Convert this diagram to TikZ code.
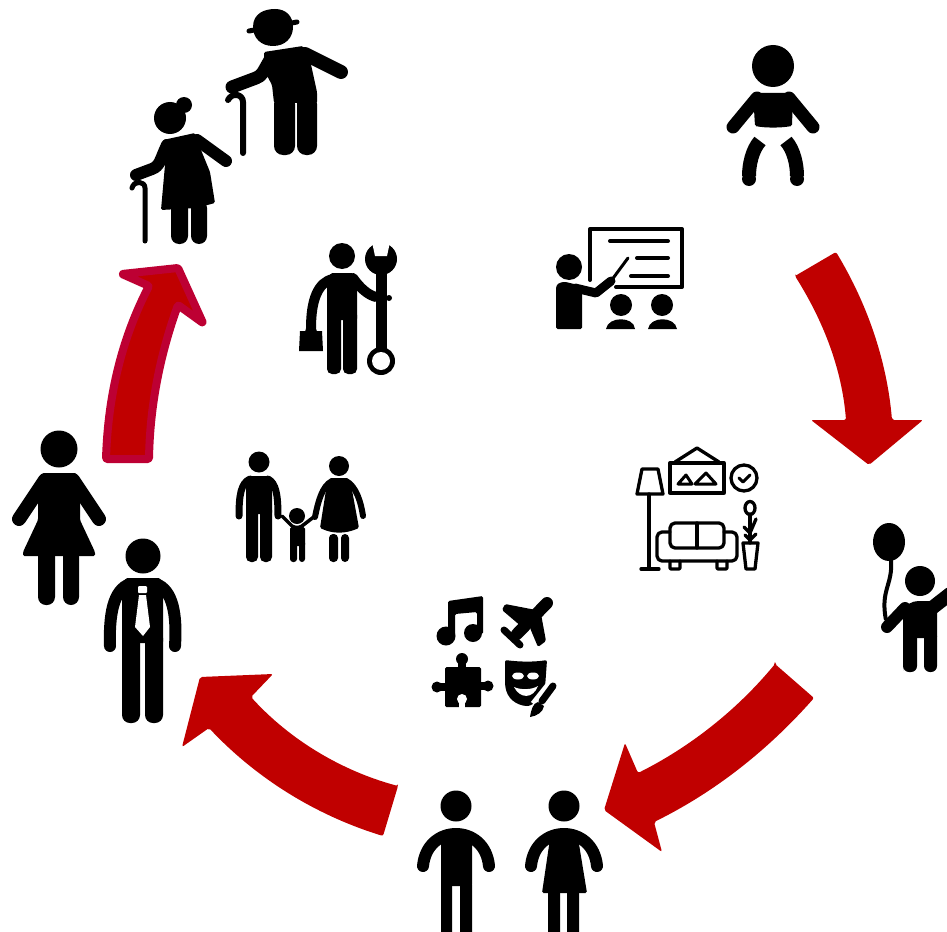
\documentclass[tikz,border=0pt]{standalone}
\definecolor{arrowred}{HTML}{C00000}
\definecolor{arrowrim}{HTML}{BD0033}
\tikzset{
  ink/.style={fill=black, rounded corners=1.5pt},
  limb/.style={draw=black, line cap=round, line join=round},
  leg/.style={fill=black, rounded corners=5pt},
  wire/.style={draw=black, line width=3.3pt, line join=round, line cap=round},
  redarrow/.style={fill=arrowred, rounded corners=2pt}
}
\begin{document}
\begin{tikzpicture}[x=1pt,y=-1pt]
\useasboundingbox (0,0) rectangle (947,931);
% red arrows
\fill[redarrow] (795,276) -- (836,252) .. controls (868,305) and (887,362) .. (892,420) -- (923,420) -- (869,465) -- (811,420) -- (846,420) .. controls (842,370) and (824,322) .. (795,276) -- cycle; %top right
\fill[redarrow] (775,664) -- (814,698) .. controls (768,750) and (715,792) .. (654,822) -- (662,852) -- (604,810) -- (625,743) -- (638,773) .. controls (690,747) and (737,710) .. (775,664) -- cycle; %bottom right
\fill[redarrow] (398,786) -- (383,836) .. controls (315,815) and (256,778) .. (209,728) -- (182,747) -- (200,677) -- (273,674) -- (251,697) .. controls (290,740) and (342,771) .. (398,786) -- cycle; %bottom left
\draw[fill=arrowred, rounded corners=1pt, draw=arrowrim, line width=8pt, line join=round] (106,459) .. controls (108,395) and (122,338) .. (149,286) -- (122,274) -- (178,268) -- (203,323) -- (178,305) .. controls (160,355) and (150,405) .. (149,459) -- cycle; %left
% baby
\fill (773,66) circle (21);
\fill[ink] (753,93) -- (793,93) -- (792,126) .. controls (780,128) and (766,128) .. (755,126) -- cycle;
\draw[limb, line width=13pt] (757,98) -- (733,127);
\draw[limb, line width=13pt] (789,98) -- (813,127);
\draw[draw=black, line width=14pt] (760,141) .. controls (752,150) and (749,165) .. (749,176);
\draw[draw=black, line width=14pt] (786,141) .. controls (794,150) and (797,165) .. (797,176);
\fill (749,179) circle (7);
\fill (797,179) circle (7);
% old man
\fill (253,27) .. controls (253,13) and (265,9) .. (275,9) .. controls (286,9) and (293,16) .. (293,27) .. controls (293,38) and (285,46) .. (273,46) .. controls (261,46) and (253,38) .. (253,27) -- cycle;
\draw[limb, line width=5pt] (249,31) -- (297,22);
\fill[ink] (264,52) -- (303,46) -- (310,60) -- (317,92) -- (317,103) -- (274,103) -- (272,85) -- (264,70) -- cycle;
\draw[limb, line width=14pt] (305,54) -- (341,72);
\draw[limb, line width=13pt] (270,60) .. controls (263,72) and (262,76) .. (256,78) -- (232,87);
\fill[leg, rounded corners=9pt] (274,95) rectangle (295,155);
\fill[leg, rounded corners=9pt] (297,95) rectangle (317,155);
\draw[limb, line width=6pt] (243,153) -- (243,102) .. controls (243,94) and (232,92) .. (228,100);
% old woman
\fill (170,118) circle (16);
\fill (184,105) circle (8);
\fill[ink] (163,140) -- (195,133) -- (201,150) -- (210,172) -- (215,203) -- (196,208) -- (161,210) -- (165,165) -- cycle;
\draw[limb, line width=12pt] (197,140) -- (226,161);
\draw[limb, line width=12pt] (167,145) .. controls (160,160) and (160,166) .. (152,169) -- (136,175);
\fill[leg, rounded corners=8pt] (171,200) rectangle (188,244);
\fill[leg, rounded corners=8pt] (191,200) rectangle (207,244);
\draw[limb, line width=5pt] (145,241) -- (145,188) .. controls (145,181) and (134,180) .. (132,188);
% mechanic
\fill (342,256) circle (13);
\fill[ink] (331,273) -- (353,273) -- (357,280) -- (357,320) -- (327,320) -- (327,280) -- cycle;
\draw[limb, line width=10pt] (333,279) .. controls (318,282) and (311,300) .. (311,328);
\draw[limb, line width=10pt] (353,278) .. controls (360,288) and (368,295) .. (376,297);
\fill[leg] (327,310) rectangle (341,374);
\fill[leg] (343,310) rectangle (357,374);
\fill (300,331) -- (322,331) -- (323,351) -- (299,351) -- cycle;
\draw[black, line width=2pt] (306,332) -- (308,325) -- (314,325) -- (316,332);
\fill (389,298) circle (3);
\draw[line width=11pt] (381,262) -- (381,352);
\fill (381,259) circle (16);
\fill[white] (372,242) -- (390,242) -- (387,256) -- (375,256) -- cycle;
\fill (381,361) circle (14);
\fill[white] (381,361) circle (9);
% teacher and class
\fill (569,267) circle (13);
\fill[ink] (556,329) -- (556,290) .. controls (556,284) and (560,282) .. (566,282) -- (582,286) -- (582,329) -- cycle;
\draw[limb, line width=9pt] (575,288) -- (596,293) -- (611,281);
\draw[limb, line width=3pt] (611,281) -- (628,258);
\draw[wire, line width=4pt] (590,280) -- (590,229) -- (682,229) -- (682,287) -- (616,287);
\draw[wire, line width=4pt] (610,241) -- (668,241);
\draw[wire, line width=4pt] (637,258) -- (668,258);
\draw[wire, line width=4pt] (631,276) -- (668,276);
\fill (621,305) circle (11);
\fill (662,305) circle (11);
\fill (606,329) .. controls (608,316) and (634,316) .. (635,329) -- cycle;
\fill (648,329) .. controls (650,316) and (675,316) .. (677,329) -- cycle;
% living room
\draw[wire] (642,469) -- (658,469) -- (663,494) -- (637,494) -- cycle; %lamp
\draw[wire] (649,494) -- (649,568);
\draw[wire] (641,569) -- (659,569);
\draw[wire] (670,463) rectangle (724,493); %picture
\draw[wire] (675,462) -- (697,448) -- (719,462);
\draw[wire, line width=3pt] (678,484) -- (686,475) -- (692,484) -- cycle;
\draw[wire, line width=3pt] (695,484) -- (706,473) -- (716,484) -- cycle;
\draw[wire] (744,478) circle (13); %clock
\draw[wire, line width=3pt] (739,478) -- (743,482) -- (750,475);
\draw[wire, rounded corners=5pt] (670,548) -- (670,523) -- (724,523) -- (724,548) -- cycle; %sofa
\draw[wire] (697,523) -- (697,548);
\draw[wire, rounded corners=5pt] (670,532) -- (657,532) -- (657,561) -- (737,561) -- (737,532) -- (724,532);
\draw[wire, rounded corners=1pt] (670,561) -- (670,569) -- (680,569) -- (680,561);
\draw[wire, rounded corners=1pt] (717,561) -- (717,569) -- (727,569) -- (727,561);
\draw[wire] (750,508) ellipse (5 and 6.5); %plant
\draw[wire] (750,514) -- (750,543);
\draw[wire] (744,527) -- (750,533) -- (756,519);
\draw[wire] (745,535) -- (750,540) -- (756,534);
\draw[wire] (743,543) -- (758,543) -- (755,569) -- (746,569) -- cycle;
% child with balloon
\fill (889,542) ellipse (16 and 19);
\draw[draw=black, line width=4pt] (891,560) .. controls (893,585) and (880,590) .. (886,620);
\fill (920,581) circle (15);
\fill[ink] (903,672) -- (903,612) .. controls (905,605) and (912,601) .. (920,601) -- (937,601) -- (937,638) -- (903,638) -- cycle;
\draw[limb, line width=12pt] (905,608) -- (887,627);
\draw[limb, line width=14pt] (932,608) -- (950,594);
\fill[leg, rounded corners=6pt] (903,630) rectangle (917,672);
\fill[leg, rounded corners=6pt] (924,630) rectangle (937,672);
% bottom man and woman
\fill (456,806) circle (15.5);
\draw[limb, line width=12pt] (423,866) .. controls (425,845) and (440,834) .. (456,834) .. controls (472,834) and (487,845) .. (489,866);
\fill[ink] (441,832) -- (472,832) -- (472,886) -- (441,886) -- cycle;
\fill[leg] (441,880) rectangle (452,940);
\fill[leg] (460,880) rectangle (472,940);
\fill (564,806) circle (15.5);
\draw[limb, line width=12pt] (531,866) .. controls (533,845) and (548,834) .. (564,834) .. controls (580,834) and (595,845) .. (597,866);
\fill[ink] (551,832) -- (577,832) -- (587,893) -- (542,893) -- cycle;
\fill[leg] (548,885) rectangle (560,940);
\fill[leg] (567,885) rectangle (579,940);
% woman
\fill (59,449) circle (18.5);
\fill[ink] (43,473) -- (76,473) -- (80,480) -- (80,520) -- (95,552) -- (95,556) -- (23,556) -- (23,552) -- (38,520) -- (38,480) -- cycle;
\draw[limb, line width=14pt] (45,480) -- (19,519);
\draw[limb, line width=14pt] (73,480) -- (99,519);
\fill[leg, rounded corners=8pt] (38,545) rectangle (55,605);
\fill[leg, rounded corners=8pt] (63,545) rectangle (79,605);
% man with tie
\fill (143,556) circle (17.5);
\fill[ink] (126,578) -- (160,578) -- (163,585) -- (163,643) -- (122,643) -- (122,585) -- cycle;
\draw[limb, line width=12pt] (130,584) .. controls (113,590) and (109,615) .. (110,646);
\draw[limb, line width=12pt] (156,584) .. controls (173,590) and (177,615) .. (175,646);
\fill[leg, rounded corners=8pt] (122,630) rectangle (140,723);
\fill[leg, rounded corners=8pt] (145,630) rectangle (163,723);
\fill[white, rounded corners=1pt] (138,586) rectangle (147,593);
\fill[white] (139,595) -- (146,595) -- (150,627) -- (143,636) -- (135,627) -- cycle;
% family
\fill (259,462) circle (10.5);
\fill[ink] (249,476) -- (269,476) -- (272,482) -- (272,514) -- (246,514) -- (246,482) -- cycle;
\draw[limb, line width=7pt] (250,479) .. controls (241,483) and (239,495) .. (239,516);
\draw[limb, line width=7pt] (268,479) .. controls (276,483) and (278,495) .. (278,516);
\fill[leg] (246,505) rectangle (258,562);
\fill[leg] (260,505) rectangle (272,562);
\fill (297,516) circle (8);
\draw[limb, line width=3.5pt] (282,516) -- (292,526) .. controls (295,528) and (299,528) .. (302,526) -- (315,516);
\fill[ink] (290,527) -- (305,527) -- (305,546) -- (290,546) -- cycle;
\fill[leg, rounded corners=3pt] (290,540) rectangle (297,562);
\fill[leg, rounded corners=3pt] (299,540) rectangle (305,562);
\fill (339,466) circle (10);
\fill[ink] (330,478) -- (348,478) -- (352,490) -- (359,528) .. controls (345,534) and (333,534) .. (320,528) -- (326,490) -- cycle;
\draw[limb, line width=6pt] (332,481) .. controls (322,486) and (318,502) .. (315,517);
\draw[limb, line width=6pt] (346,481) .. controls (356,486) and (361,502) .. (363,516);
\fill[leg, rounded corners=4pt] (329,534) rectangle (338,562);
\fill[leg, rounded corners=4pt] (341,534) rectangle (349,562);
% music note
\fill (446,636) circle (9.5);
\fill (473,633) circle (9);
\fill[ink] (448,601) -- (483,596) -- (483,634) -- (477,634) -- (477,612) -- (455,614) -- (455,636) -- (448,636) -- cycle;
% plane
\draw[limb, line width=12pt] (547,603) -- (517,634);
\fill[ink] (502,610) -- (505,604) -- (536,610) -- (522,627) -- cycle;
\fill[ink] (530,628) -- (541,614) -- (546,641) -- (538,647) -- cycle;
\draw[limb, line width=7pt] (504,630) -- (520,645);
% puzzle piece
\fill[ink] (445,667) -- (481,667) -- (481,707) -- (445,707) -- cycle;
\fill (462,659) circle (6);
\fill (437,687) circle (5.5);
\fill (488,686) circle (5.5);
\fill (458,659) rectangle (466,670);
\fill (437,683) rectangle (448,691);
\fill (478,682) rectangle (488,690);
\fill[white] (462,699) circle (5);
\fill[white] (459,699) rectangle (465,708);
% mask and brush
\fill[rounded corners=2pt] (505,660) .. controls (520,662) and (535,662) .. (547,660) -- (545,688) .. controls (540,700) and (532,706) .. (525,706) .. controls (512,703) and (505,695) .. (505,680) -- cycle;
\fill[white] (518,676) ellipse (6 and 3.5);
\fill[white] (533,676) ellipse (6 and 3.5);
\fill[white] (514,687) .. controls (520,699) and (533,699) .. (538,686) .. controls (532,690) and (520,690) .. (514,687) -- cycle;
\draw[white, line width=13pt] (552,686) -- (536,706);
\draw[limb, line width=7pt] (553,686) -- (542,701);
\fill (538,702) .. controls (533,703) and (531,710) .. (530,717) .. controls (537,716) and (543,712) .. (544,706) -- cycle;
\end{tikzpicture}
\end{document}
